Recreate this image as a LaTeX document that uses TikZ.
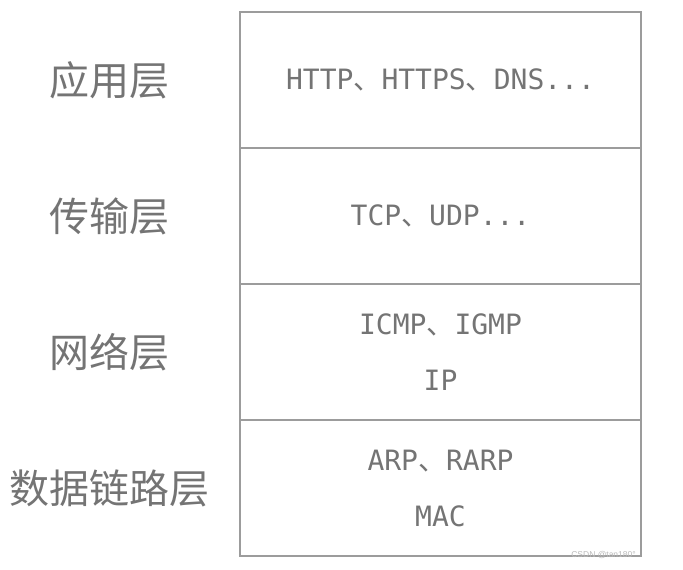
\documentclass[tikz,border=0pt]{standalone}
\usepackage{fontspec}
\setmonofont{DejaVu Sans Mono}
\newfontfamily\cjk{Noto Sans CJK SC}
\newfontfamily\wmfont{Liberation Sans}
\usetikzlibrary{positioning}
\definecolor{linegray}{HTML}{9C9C9C}
\definecolor{textgray}{HTML}{747474}
\newcommand{\dun}{{\cjk 、}}

\begin{document}
\begin{tikzpicture}[x=1pt,y=-1pt]
	\tikzstyle{row} = [rectangle, draw=linegray, line width=2.5pt, minimum width=401pt, minimum height=136pt, inner sep=0pt, outer sep=0pt, align=center, text=textgray, font=\ttfamily\fontsize{28}{56}\selectfont]
	\tikzstyle{layer} = [draw=none, text width=210pt, text centered, inner sep=0pt, text=textgray, font=\cjk\fontsize{40}{44}\selectfont]
	\tikzstyle{wmark} = [inner sep=0pt, text=gray!55, font=\wmfont\fontsize{8.5}{9}\selectfont]
	\useasboundingbox (0,0) rectangle (683,570);
	\node [row] (app) at (440.5,80) {\raisebox{-3pt}{HTTP\dun HTTPS\dun DNS...}};
	\node [row, below=0pt of app] (trans) {\raisebox{-3pt}{TCP\dun UDP...}};
	\node [row, below=0pt of trans] (net) {ICMP\dun IGMP\\IP};
	\node [row, below=0pt of net] (link) {ARP\dun RARP\\MAC};

	\node [layer, left=25pt of app] (appname) {应用层};
	\node [layer, left=25pt of trans] (transname) {传输层};
	\node [layer, left=25pt of net] (netname) {网络层};
	\node [layer, left=25pt of link] (linkname) {数据链路层};

	\node [wmark, anchor=east] (credit) at ([xshift=-5pt,yshift=1pt]link.south east) {CSDN @tan180°};
\end{tikzpicture}
\end{document}
